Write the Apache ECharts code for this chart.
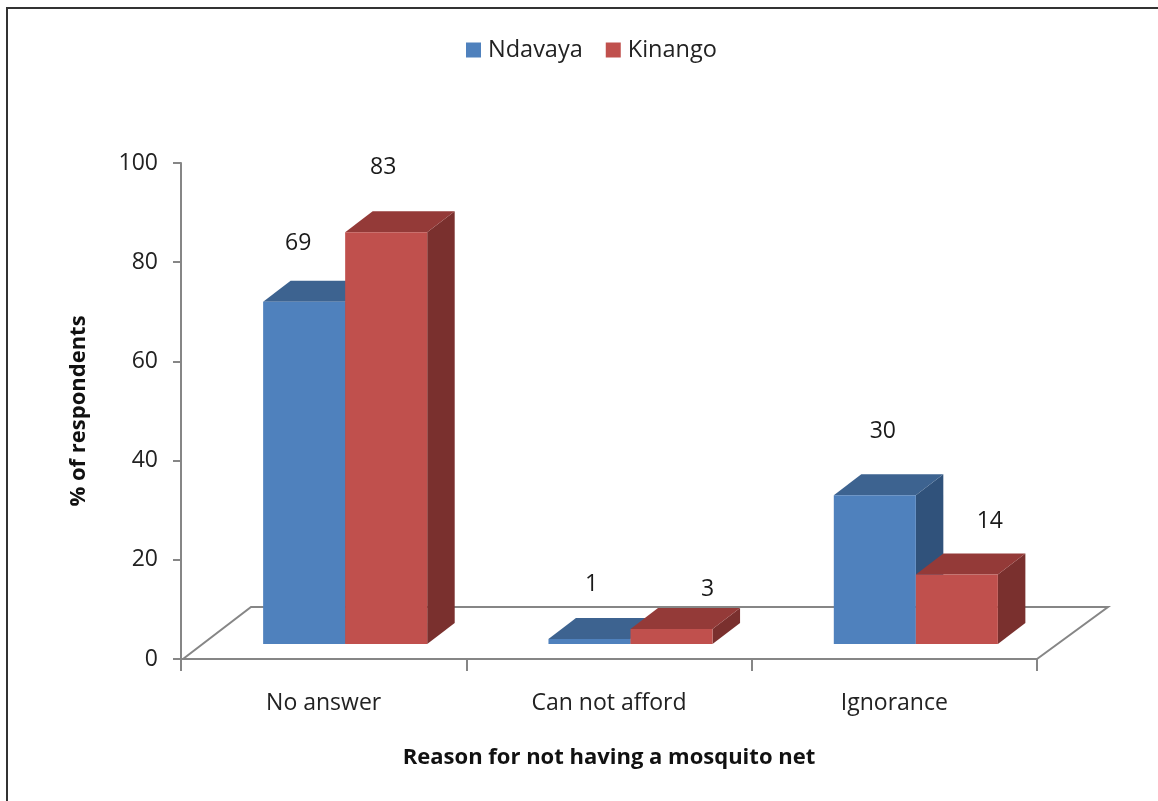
<!DOCTYPE html>
<html>
<head>
<meta charset="utf-8">
<style>
  html, body { margin: 0; padding: 0; background: #fff; }
  #chart { width: 1158px; height: 801px; }
</style>
<script src="https://cdn.jsdelivr.net/npm/echarts@6/dist/echarts.min.js"></script>
</head>
<body>
<div id="chart"></div>
<script>
const categories = ['No answer', 'Can not afford', 'Ignorance']
const ndavaya = [69, 1, 30]
const kinango = [83, 3, 14]
const yTicks = [0, 20, 40, 60, 80, 100]

const font = 'Open Sans'
const axisGrey = '#868686'
// bars stand on the floor, a bit in from the axis corner
const shiftX = 21.5
const shiftY = -15
const depthX = 27.5
const depthY = -21
// the data labels float at uneven spots in the picture
const labelOffsets = [
  [[-6, -58], [2, -55], [8, -64]],
  [[-3, -65], [36, -40], [33, -53]]
]

function barItem(seriesIndex, colors) {
  return function (params, api) {
    const cat = api.value(0)
    const top = api.coord([cat, api.value(1)])
    const base = api.coord([cat, 0])
    const w = api.size([1, 0])[0] * 0.2875
    const x0 = top[0] + shiftX + (seriesIndex === 0 ? -w : 0)
    const x1 = x0 + w
    const y0 = top[1] + shiftY
    const y1 = base[1] + shiftY
    const off = labelOffsets[seriesIndex][cat]
    return {
      type: 'group',
      children: [
        {
          type: 'polygon',
          shape: { points: [[x1, y0], [x1 + depthX, y0 + depthY], [x1 + depthX, y1 + depthY], [x1, y1]] },
          style: { fill: colors.side }
        },
        {
          type: 'polygon',
          shape: { points: [[x0, y0], [x0 + depthX, y0 + depthY], [x1 + depthX, y0 + depthY], [x1, y0]] },
          style: { fill: colors.top }
        },
        {
          type: 'rect',
          shape: { x: x0, y: y0, width: w, height: y1 - y0 },
          style: { fill: colors.front }
        },
        {
          type: 'text',
          style: {
            text: String(api.value(1)),
            x: (x0 + x1) / 2 + off[0],
            y: y0 + off[1],
            align: 'center',
            verticalAlign: 'middle',
            fontFamily: font,
            fontSize: 23,
            fill: '#1a1a1a'
          }
        }
      ]
    }
  }
}

function floorItem(params, api) {
  const c = params.coordSys
  const bottom = c.y + c.height
  return {
    type: 'polyline',
    shape: {
      points: [
        [c.x + 2, bottom],
        [c.x + 70, bottom - 52],
        [c.x + c.width + 71, bottom - 52],
        [c.x + c.width, bottom]
      ]
    },
    style: { fill: 'none', stroke: axisGrey, lineWidth: 2 }
  }
}

const chart = echarts.init(document.getElementById('chart'))
chart.setOption({
  animation: false,
  backgroundColor: '#fff',
  graphic: [{
    type: 'polyline',
    shape: { points: [[7, 801], [7, 8], [1158, 8]] },
    style: { fill: 'none', stroke: '#333', lineWidth: 2 }
  }],
  legend: {
    data: ['Ndavaya', 'Kinango'],
    top: 33,
    left: 461,
    itemWidth: 15,
    itemHeight: 15,
    itemGap: 23,
    icon: 'rect',
    textStyle: { fontFamily: font, fontSize: 23.5, color: '#222', padding: [0, 0, 0, 2] }
  },
  grid: { left: 181, right: 121, top: 163, bottom: 142 },
  xAxis: {
    type: 'category',
    data: categories,
    name: 'Reason for not having a mosquito net',
    nameLocation: 'middle',
    nameGap: 88,
    nameTextStyle: { fontFamily: font, fontSize: 22, fontWeight: 'bold', color: '#111' },
    axisLine: { lineStyle: { color: axisGrey, width: 2 } },
    axisTick: { show: true, alignWithLabel: false, length: 12, lineStyle: { color: axisGrey, width: 2 } },
    axisLabel: { fontFamily: font, fontSize: 23, color: '#222', margin: 33 }
  },
  yAxis: {
    type: 'value',
    min: yTicks[0],
    max: yTicks[yTicks.length - 1],
    interval: 20,
    name: '% of respondents',
    nameLocation: 'middle',
    nameGap: 91,
    nameTextStyle: { fontFamily: font, fontSize: 22, fontWeight: 'bold', color: '#111' },
    splitLine: { show: false },
    axisLine: { show: true, lineStyle: { color: axisGrey, width: 2 } },
    axisTick: { show: true, length: 8, lineStyle: { color: axisGrey, width: 2 } },
    axisLabel: { fontFamily: font, fontSize: 23, color: '#222', margin: 23, padding: [9, 0, 0, 0] }
  },
  series: [
    {
      name: 'floor',
      type: 'custom',
      silent: true,
      renderItem: floorItem,
      data: [[0, 0]],
      z: 1
    },
    {
      name: 'Ndavaya',
      type: 'custom',
      renderItem: barItem(0, { front: '#4f81bd', top: '#3d6390', side: '#30527b' }),
      itemStyle: { color: '#4f81bd' },
      encode: { x: 0, y: 1 },
      data: categories.map((c, i) => [i, ndavaya[i]]),
      z: 2
    },
    {
      name: 'Kinango',
      type: 'custom',
      renderItem: barItem(1, { front: '#c0504d', top: '#943a38', side: '#7a302e' }),
      itemStyle: { color: '#c0504d' },
      encode: { x: 0, y: 1 },
      data: categories.map((c, i) => [i, kinango[i]]),
      z: 3
    }
  ]
})
</script>
</body>
</html>
